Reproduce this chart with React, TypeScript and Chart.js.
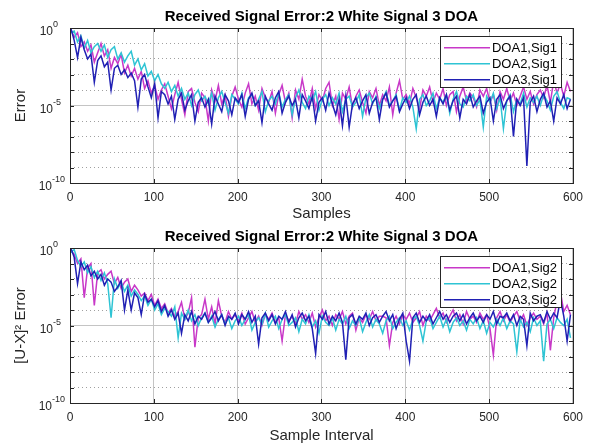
import React, { useEffect, useRef } from "react";
import { Chart, registerables } from "chart.js";
Chart.register(...registerables);

// ---- data (log10 of error, one value every 4 samples starting at sample 1) ----
const sampleStep = 4;
const xTickValues = [0, 100, 200, 300, 400, 500, 600];
const yDecades = [0, -1, -2, -3, -4, -5, -6, -7, -8, -9, -10];
const yLabelExponents = [0, -5, -10];

const topLabels = ["DOA1,Sig1", "DOA2,Sig1", "DOA3,Sig1"];
const bottomLabels = ["DOA1,Sig2", "DOA2,Sig2", "DOA3,Sig2"];
const seriesColors = ["#c838c8", "#2ec4d4", "#2020b4"];

const topDoa1 = [
  -0.1, -0.6, -0.3, -1.2, -0.9, -1.5, -1.1, -2.2, -1.6, -1.0,
  -1.8, -1.4, -2.6, -1.9, -2.3, -1.7, -2.9, -2.4, -3.1, -2.6,
  -3.3, -2.8, -3.9, -3.4, -4.2, -3.7, -4.6, -4.0, -3.6, -4.4,
  -5.2, -4.3, -3.5, -4.6, -5.6, -4.1, -3.9, -4.8, -5.4, -4.2,
  -4.5, -6.0, -4.0, -4.7, -3.7, -4.9, -4.3, -5.7, -4.4, -3.8,
  -4.6, -5.1, -4.2, -3.6, -4.9, -4.4, -5.3, -3.9, -4.5, -4.8,
  -4.1, -5.5, -4.3, -3.7, -4.8, -4.2, -5.8, -4.0, -4.6, -3.3,
  -4.4, -4.9, -3.9, -5.2, -4.3, -4.7, -3.9, -3.5, -5.0, -4.4,
  -5.9, -4.2, -4.6, -3.8, -5.1, -4.4, -4.0, -4.8, -5.5, -4.1,
  -4.5, -3.9, -5.0, -4.3, -4.7, -3.8, -5.6, -4.2, -3.4, -4.6,
  -4.3, -4.9, -3.9, -4.5, -5.2, -4.0, -4.4, -3.8, -4.8, -4.2,
  -4.6, -3.9, -5.0, -4.3, -4.1, -5.4, -4.4, -3.8, -4.7, -4.2,
  -4.5, -5.1, -4.0, -4.4, -3.9, -4.8, -4.3, -5.3, -4.1, -4.6,
  -3.9, -4.7, -4.2, -5.0, -4.4, -3.8, -4.6, -4.1, -4.9, -4.3,
  -4.0, -4.5, -3.7, -4.8, -3.4, -4.2, -3.6, -4.4, -3.5, -4.1,
];
const topDoa2 = [
  -0.3, -0.2, -0.9, -0.5, -1.3, -0.8, -1.6, -1.2, -1.0, -1.5,
  -1.1, -1.9, -1.4, -1.2, -2.0, -1.6, -2.2, -1.8, -1.5, -2.4,
  -2.0, -2.7, -2.3, -3.1, -2.8, -3.4, -3.0, -3.6, -3.9, -3.5,
  -4.1, -3.7, -4.4, -3.9, -4.6, -4.2, -5.0, -4.3, -4.0, -4.7,
  -4.4, -4.9, -4.2, -5.3, -4.5, -4.1, -4.8, -5.5, -4.3, -4.6,
  -4.9, -4.2, -5.2, -4.5, -4.3, -5.0, -4.6, -4.1, -5.4, -4.7,
  -4.4, -4.9, -4.2, -5.1, -4.6, -4.3, -5.6, -4.5, -4.0, -4.8,
  -5.2, -4.4, -4.7, -4.1, -5.3, -4.6, -4.3, -5.0, -4.5, -4.9,
  -4.2, -5.4, -4.6, -4.4, -5.1, -4.8, -4.3, -5.7, -4.5, -4.2,
  -4.9, -4.4, -5.2, -4.6, -4.1, -5.0, -4.7, -4.3, -5.3, -4.5,
  -4.8, -4.4, -5.1, -6.5, -4.6, -4.3, -5.0, -4.7, -4.2, -5.2,
  -4.5, -4.8, -4.3, -5.5, -4.6, -4.1, -4.9, -5.1, -4.4, -4.7,
  -4.3, -5.0, -4.6, -6.4, -4.4, -4.8, -4.2, -5.2, -4.5, -6.5,
  -4.7, -4.3, -5.4, -4.6, -4.9, -4.2, -5.1, -4.5, -4.8, -4.4,
  -5.0, -4.3, -4.7, -5.3, -4.4, -4.1, -4.8, -5.2, -4.5, -4.6,
];
const topDoa3 = [
  0.0, -0.8, -1.9, -0.6, -1.4, -2.0, -1.7, -3.5, -2.1, -1.8,
  -2.5, -2.2, -4.0, -2.6, -2.4, -3.0, -2.7, -3.2, -2.9, -3.4,
  -5.1, -3.3, -3.0, -3.8, -4.5, -3.6, -5.8, -4.1, -4.3, -4.9,
  -4.4, -5.9, -4.6, -4.2, -5.3, -4.7, -4.3, -6.0, -4.8, -4.5,
  -5.1, -4.6, -6.2, -4.4, -4.9, -5.4, -4.3, -4.7, -5.6, -4.5,
  -4.8, -4.3, -5.7, -4.6, -4.2, -5.0, -4.7, -6.1, -4.4, -4.9,
  -5.3, -4.5, -4.1, -5.5, -4.8, -4.4, -5.0, -4.6, -5.8, -4.3,
  -4.7, -5.2, -4.4, -6.0, -4.8, -4.5, -5.3, -4.2, -4.9, -5.6,
  -4.6, -6.3, -4.4, -6.4, -4.9, -4.5, -5.2, -4.7, -4.3, -5.5,
  -4.8, -4.5, -5.9, -4.6, -4.2, -5.1, -4.7, -4.4, -5.4, -4.9,
  -4.5, -5.2, -4.6, -4.3, -5.6, -4.8, -4.4, -5.0, -4.6, -5.7,
  -4.5, -4.9, -4.3, -5.3, -4.7, -4.4, -5.8, -4.6, -4.9, -4.3,
  -5.1, -4.7, -4.4, -5.5, -4.8, -4.5, -6.0, -4.6, -4.3, -5.2,
  -4.7, -4.4, -7.0, -4.6, -5.0, -4.5, -8.9, -4.8, -4.4, -5.4,
  -4.6, -4.2, -5.1, -4.7, -6.0, -4.5, -4.9, -4.3, -5.2, -4.6,
];
const botDoa1 = [
  -0.2, -0.4, -1.0, -0.7, -3.2, -1.3, -1.0, -3.7, -1.6, -1.4,
  -2.0, -1.7, -1.5, -2.3, -1.9, -2.6, -2.2, -2.0, -2.8, -2.4,
  -2.7, -3.1, -2.9, -3.4, -3.0, -3.7, -3.3, -3.9, -3.6, -4.2,
  -3.9, -4.4, -4.1, -3.5, -4.6, -4.2, -3.2, -6.4, -4.5, -4.3,
  -3.3, -4.6, -3.8, -4.9, -3.4, -4.4, -4.8, -4.1, -4.6, -4.3,
  -4.7, -4.2, -4.9, -4.5, -4.1, -4.8, -4.4, -5.0, -4.3, -4.6,
  -4.2, -4.8, -4.5, -6.0, -4.3, -4.7, -4.4, -4.9, -4.1, -4.6,
  -4.3, -4.8, -4.2, -5.1, -4.5, -4.0, -4.7, -4.4, -5.0, -4.3,
  -4.6, -4.1, -4.9, -4.4, -4.2, -5.3, -4.5, -4.8, -4.3, -4.6,
  -4.1, -4.7, -4.4, -4.4, -4.5, -6.3, -4.8, -4.4, -4.9, -4.3,
  -4.6, -4.2, -4.8, -4.5, -4.1, -5.0, -4.4, -4.7, -4.3, -3.9,
  -4.5, -4.2, -4.8, -4.4, -4.0, -4.7, -4.3, -4.9, -4.1, -4.6,
  -4.4, -4.8, -4.2, -4.6, -4.3, -5.2, -6.9, -4.5, -4.1, -4.7,
  -4.3, -4.8, -4.4, -4.1, -4.7, -4.3, -5.0, -4.5, -4.2, -4.6,
  -4.4, -4.9, -4.2, -6.6, -4.5, -3.4, -2.8, -4.1, -3.7, -4.3,
];
const botDoa2 = [
  -0.3, -0.1, -0.8, -1.2, -0.9, -1.6, -1.2, -1.9, -1.5, -2.1,
  -1.6, -2.3, -4.5, -2.0, -2.6, -2.2, -2.8, -2.4, -3.1, -2.7,
  -3.0, -3.4, -3.1, -3.7, -3.3, -4.0, -3.6, -4.3, -3.9, -4.1,
  -4.4, -3.8, -5.8, -4.2, -4.6, -4.0, -4.7, -4.3, -5.0, -4.5,
  -4.2, -4.8, -4.4, -5.1, -4.6, -4.3, -4.9, -4.5, -5.2, -4.7,
  -4.4, -5.0, -4.6, -4.3, -5.3, -4.8, -4.5, -4.9, -4.2, -5.1,
  -4.7, -4.4, -5.2, -4.6, -4.3, -5.0, -4.8, -4.5, -5.4, -4.6,
  -4.9, -4.3, -5.1, -4.7, -5.5, -4.4, -4.8, -5.0, -4.5, -5.3,
  -4.6, -4.9, -4.4, -5.2, -4.7, -5.0, -4.5, -5.4, -4.8, -4.3,
  -5.1, -4.6, -4.9, -5.5, -4.7, -4.4, -5.2, -4.8, -4.5, -5.0,
  -4.7, -5.3, -4.6, -4.4, -5.0, -6.0, -4.7, -4.5, -5.2, -4.8,
  -4.4, -5.1, -4.6, -5.4, -4.8, -4.5, -5.0, -4.7, -5.3, -4.6,
  -4.9, -4.5, -5.2, -4.7, -5.5, -4.8, -5.1, -4.6, -5.0, -4.5,
  -5.2, -4.7, -4.9, -6.7, -4.6, -5.1, -4.8, -5.4, -4.5, -5.0,
  -4.7, -7.3, -4.9, -4.6, -5.2, -4.5, -4.8, -5.0, -4.6, -5.8,
];
const botDoa3 = [
  0.0, -0.6, -2.3, -0.9, -1.4, -1.1, -1.8, -1.5, -2.0, -1.7,
  -2.4, -2.0, -2.2, -2.8, -2.5, -2.1, -4.0, -2.7, -4.0, -2.9,
  -3.2, -4.3, -3.0, -3.5, -3.3, -3.8, -3.4, -4.1, -3.7, -4.4,
  -4.0, -4.6, -4.2, -5.5, -4.3, -4.7, -4.1, -4.9, -4.4, -4.6,
  -4.2, -4.8, -4.5, -4.1, -4.7, -4.3, -5.0, -4.4, -4.6, -4.2,
  -4.9, -4.3, -4.6, -4.1, -4.8, -4.4, -6.2, -4.5, -4.2, -4.7,
  -4.3, -4.9, -4.4, -4.6, -4.1, -4.8, -4.3, -5.1, -4.5, -4.2,
  -4.7, -4.4, -5.2, -6.8, -4.3, -4.6, -4.1, -4.9, -4.4, -4.7,
  -4.2, -4.8, -7.2, -4.5, -4.3, -4.9, -4.4, -4.6, -4.2, -5.0,
  -4.5, -4.3, -4.8, -4.4, -4.1, -4.7, -4.3, -5.2, -4.6, -4.2,
  -6.0, -7.3, -4.5, -4.2, -4.8, -4.4, -4.7, -4.3, -4.9, -4.5,
  -4.1, -4.6, -4.3, -4.8, -4.4, -4.2, -4.7, -4.3, -4.9, -4.5,
  -4.2, -4.7, -4.4, -4.8, -4.3, -4.6, -4.1, -4.9, -4.4, -4.5,
  -4.2, -4.7, -4.3, -5.0, -4.4, -4.6, -6.3, -4.2, -4.7, -4.4,
  -4.3, -4.8, -4.1, -4.6, -4.2, -4.5, -3.3, -4.4, -6.0, -4.3,
];

const FONT = '"Liberation Sans", Arial, Helvetica, sans-serif';
const AXIS_COLOR = "#262626";

const matlabPlugin = {
  id: "matlabDecor",
  afterDatasetsDraw(chart: any) {
    const { ctx, chartArea } = chart;
    const boxW = 121;
    const boxH = 51;
    const x0 = Math.round(chartArea.right - 12 - boxW);
    const y0 = Math.round(chartArea.top + 8);
    ctx.save();
    ctx.setLineDash([]);
    ctx.fillStyle = "#ffffff";
    ctx.fillRect(x0, y0, boxW, boxH);
    ctx.strokeStyle = AXIS_COLOR;
    ctx.lineWidth = 1;
    ctx.strokeRect(x0 + 0.5, y0 + 0.5, boxW, boxH);
    ctx.font = `13px ${FONT}`;
    ctx.textAlign = "right";
    ctx.textBaseline = "middle";
    chart.data.datasets.forEach((ds: any, i: number) => {
      const y = Math.round(y0 + 11 + i * 16);
      ctx.fillStyle = seriesColors[i];
      ctx.fillRect(x0 + 4, y, 46, 1.5);
      ctx.fillStyle = "#000";
      ctx.fillText(ds.label, x0 + boxW - 4, y + 1);
    });
    ctx.restore();
  },
  afterDraw(chart: any) {
    const { ctx, chartArea } = chart;
    const { left, right, top, bottom } = chartArea;
    const yScale = chart.scales.y;
    const xScale = chart.scales.x;
    ctx.save();
    ctx.setLineDash([]);
    ctx.strokeStyle = AXIS_COLOR;
    ctx.lineWidth = 1;
    ctx.strokeRect(Math.round(left) + 0.5, Math.round(top) + 0.5, Math.round(right - left), Math.round(bottom - top));
    ctx.beginPath();
    yDecades.forEach((e) => {
      const py = Math.round(yScale.getPixelForValue(Math.pow(10, e))) + 0.5;
      ctx.moveTo(left, py);
      ctx.lineTo(left + 4, py);
      ctx.moveTo(right, py);
      ctx.lineTo(right - 4, py);
    });
    xTickValues.forEach((v) => {
      const px = Math.round(xScale.getPixelForValue(v)) + 0.5;
      ctx.moveTo(px, bottom);
      ctx.lineTo(px, bottom - 4);
      ctx.moveTo(px, top);
      ctx.lineTo(px, top + 4);
    });
    ctx.stroke();
    ctx.fillStyle = AXIS_COLOR;
    ctx.textBaseline = "middle";
    ctx.textAlign = "right";
    yLabelExponents.forEach((e) => {
      const py = yScale.getPixelForValue(Math.pow(10, e));
      const expText = String(e);
      ctx.font = `9px ${FONT}`;
      const ew = ctx.measureText(expText).width;
      const baseRight = Math.min(left - 17, left - 5 - ew);
      ctx.fillText(expText, baseRight + ew, py - 3);
      ctx.font = `12px ${FONT}`;
      ctx.fillText("10", baseRight, py + 4);
    });
    ctx.restore();
  },
};

type PanelProps = {
  title: string;
  yTitle: string;
  xTitle: string;
  labels: string[];
  series: number[][];
  height: number;
  titleTop: number;
  xAxisHeight: number;
};

function Panel({ title, yTitle, xTitle, labels, series, height, titleTop, xAxisHeight }: PanelProps) {
  const ref = useRef<HTMLCanvasElement | null>(null);
  useEffect(() => {
    if (!ref.current) return;
    const datasets = series.map((s, k) => ({
      label: labels[k],
      data: s.map((v, i) => ({ x: i * sampleStep + 1, y: Math.pow(10, v) })),
      borderColor: seriesColors[k],
      backgroundColor: seriesColors[k],
      borderWidth: 1.5,
      pointRadius: 0,
      tension: 0,
      fill: false,
      order: series.length - 1 - k,
    }));
    const chart = new Chart(ref.current, {
      type: "line",
      data: { datasets },
      options: {
        animation: false,
        responsive: false,
        maintainAspectRatio: false,
        events: [],
        layout: { padding: { left: 0, right: 16, top: 0, bottom: 0 } },
        plugins: {
          legend: { display: false },
          tooltip: { enabled: false },
          title: {
            display: true,
            text: title,
            fullSize: false,
            color: "#000",
            font: { family: FONT, size: 15, weight: "bold", lineHeight: 1.2 },
            padding: { top: titleTop, bottom: 2 },
          },
        },
        scales: {
          x: {
            type: "linear",
            min: 0,
            max: 600,
            afterBuildTicks: (s: any) => {
              s.ticks = xTickValues.map((v) => ({ value: v }));
            },
            afterFit: (s: any) => {
              s.height = xAxisHeight;
            },
            ticks: { color: AXIS_COLOR, font: { family: FONT, size: 12 }, padding: 7, maxRotation: 0, autoSkip: false },
            grid: { color: "#c4c4c4", lineWidth: 1, drawTicks: false },
            border: { display: false },
            title: {
              display: true,
              text: xTitle,
              color: AXIS_COLOR,
              font: { family: FONT, size: 15, lineHeight: 1.2 },
              padding: { top: 0, bottom: 0 },
            },
          },
          y: {
            type: "logarithmic",
            min: 1e-10,
            max: 1,
            afterBuildTicks: (s: any) => {
              s.ticks = yDecades.map((e) => ({ value: Math.pow(10, e) }));
            },
            afterFit: (s: any) => {
              s.width = 70;
            },
            ticks: { display: false },
            grid: {
              drawTicks: false,
              lineWidth: 1,
              color: (c: any) => (c.tick && Math.abs(c.tick.value - 1e-5) < 1e-9 ? "#c4c4c4" : "#a0a0a0"),
            },
            border: {
              display: false,
              dash: (c: any) => (c.tick && Math.abs(c.tick.value - 1e-5) < 1e-9 ? [] : [1, 3]),
            },
            title: {
              display: true,
              text: yTitle,
              color: AXIS_COLOR,
              font: { family: FONT, size: 15, lineHeight: 1.2 },
              padding: { top: 12, bottom: 0 },
            },
          },
        },
      } as any,
      plugins: [matlabPlugin],
    });
    return () => chart.destroy();
  }, [title, yTitle, xTitle, labels, series, height, titleTop, xAxisHeight]);
  return <canvas ref={ref} width={590} height={height} style={{ display: "block", width: 590, height }} />;
}

const topSeries = [topDoa1, topDoa2, topDoa3];
const bottomSeries = [botDoa1, botDoa2, botDoa3];

export default function App() {
  return (
    <div style={{ position: "absolute", left: 0, top: 0, width: 590, height: 445, background: "#fff" }}>
      <Panel
        title="Received Signal Error:2 White Signal 3 DOA"
        yTitle="Error"
        xTitle="Samples"
        labels={topLabels}
        series={topSeries}
        height={223}
        titleTop={8}
        xAxisHeight={40}
      />
      <Panel
        title="Received Signal Error:2 White Signal 3 DOA"
        yTitle={"[U-X]\u00b2 Error"}
        xTitle="Sample Interval"
        labels={bottomLabels}
        series={bottomSeries}
        height={222}
        titleTop={5}
        xAxisHeight={42}
      />
    </div>
  );
}
